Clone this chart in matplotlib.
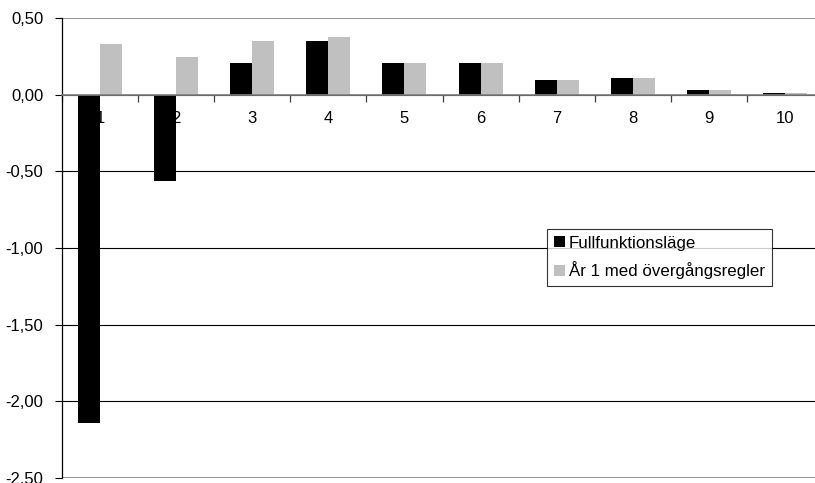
import matplotlib
matplotlib.use("Agg")
import matplotlib.pyplot as plt
from matplotlib.ticker import FuncFormatter, FixedLocator
import numpy as np

plt.rcParams['font.family'] = ['Liberation Sans', 'DejaVu Sans']

categories = ["1", "2", "3", "4", "5", "6", "7", "8", "9", "10"]
full_mode = [-2.14, -0.565, 0.21, 0.35, 0.21, 0.205, 0.094, 0.107, 0.035, 0.015]
year1_transition = [0.335, 0.25, 0.35, 0.38, 0.21, 0.205, 0.094, 0.107, 0.035, 0.015]
series_names = ["Fullfunktionsläge", "År 1 med övergångsregler"]
y_ticks = [0.5, 0.0, -0.5, -1.0, -1.5, -2.0, -2.5]

W, H = 815, 483
fig = plt.figure(figsize=(W / 100, H / 100), dpi=100)
left, right, top, bottom = 62, 823, 18.3, 477.7
ax = fig.add_axes([left / W, (H - bottom) / H, (right - left) / W, (bottom - top) / H])

x = np.arange(1, len(categories) + 1)
bw = 0.289
ax.bar(x - bw / 2, full_mode, width=bw, color="black", label=series_names[0], zorder=3)
ax.bar(x + bw / 2, year1_transition, width=bw, color="#C0C0C0", label=series_names[1], zorder=3)

ax.set_xlim(0.5, len(categories) + 0.5)
ax.set_ylim(-2.5, 0.5)
ax.set_yticks(y_ticks)
ax.yaxis.set_major_formatter(FuncFormatter(lambda v, p: f"{v:.2f}".replace(".", ",")))
ax.tick_params(axis="y", length=5, width=0.8, direction="out", labelsize=12, pad=8.5, colors="black")

# horizontal gridlines; the outer ones form the grey plot-area frame
ax.yaxis.grid(True, color="black", linewidth=0.8, zorder=0)
for gl, v in zip(ax.yaxis.get_gridlines(), y_ticks):
    if v in (0.5, -2.5):
        gl.set_color("#808080")
        gl.set_linewidth(1.2)

# category axis runs along zero
ax.spines["bottom"].set_position(("data", 0))
ax.spines["bottom"].set_color("#808080")
ax.spines["bottom"].set_linewidth(1.2)
ax.spines["bottom"].set_zorder(4)
ax.spines["top"].set_visible(False)
ax.spines["right"].set_visible(False)
ax.spines["left"].set_linewidth(0.9)
ax.set_xticks(x)
ax.set_xticklabels(categories)
ax.xaxis.set_minor_locator(FixedLocator(np.arange(0.5, len(categories) + 1, 1.0)))
ax.tick_params(axis="x", which="major", length=0, labelsize=12, pad=11.5)
ax.tick_params(axis="x", which="minor", length=5, width=0.9, direction="out", colors="#404040")

leg = ax.legend(loc="upper left", frameon=True, fancybox=False, fontsize=12.2,
                handlelength=0.65, handleheight=0.6, handletextpad=0.25, borderpad=0.4,
                labelspacing=0.62, borderaxespad=0)
leg.get_frame().set_edgecolor("black")
leg.get_frame().set_linewidth(0.8)
leg.set_zorder(5)
leg.set_bbox_to_anchor(((547 - left) / (right - left), 1 - (229 - top) / (bottom - top)), transform=ax.transAxes)

fig.savefig("out.png", dpi=100)
